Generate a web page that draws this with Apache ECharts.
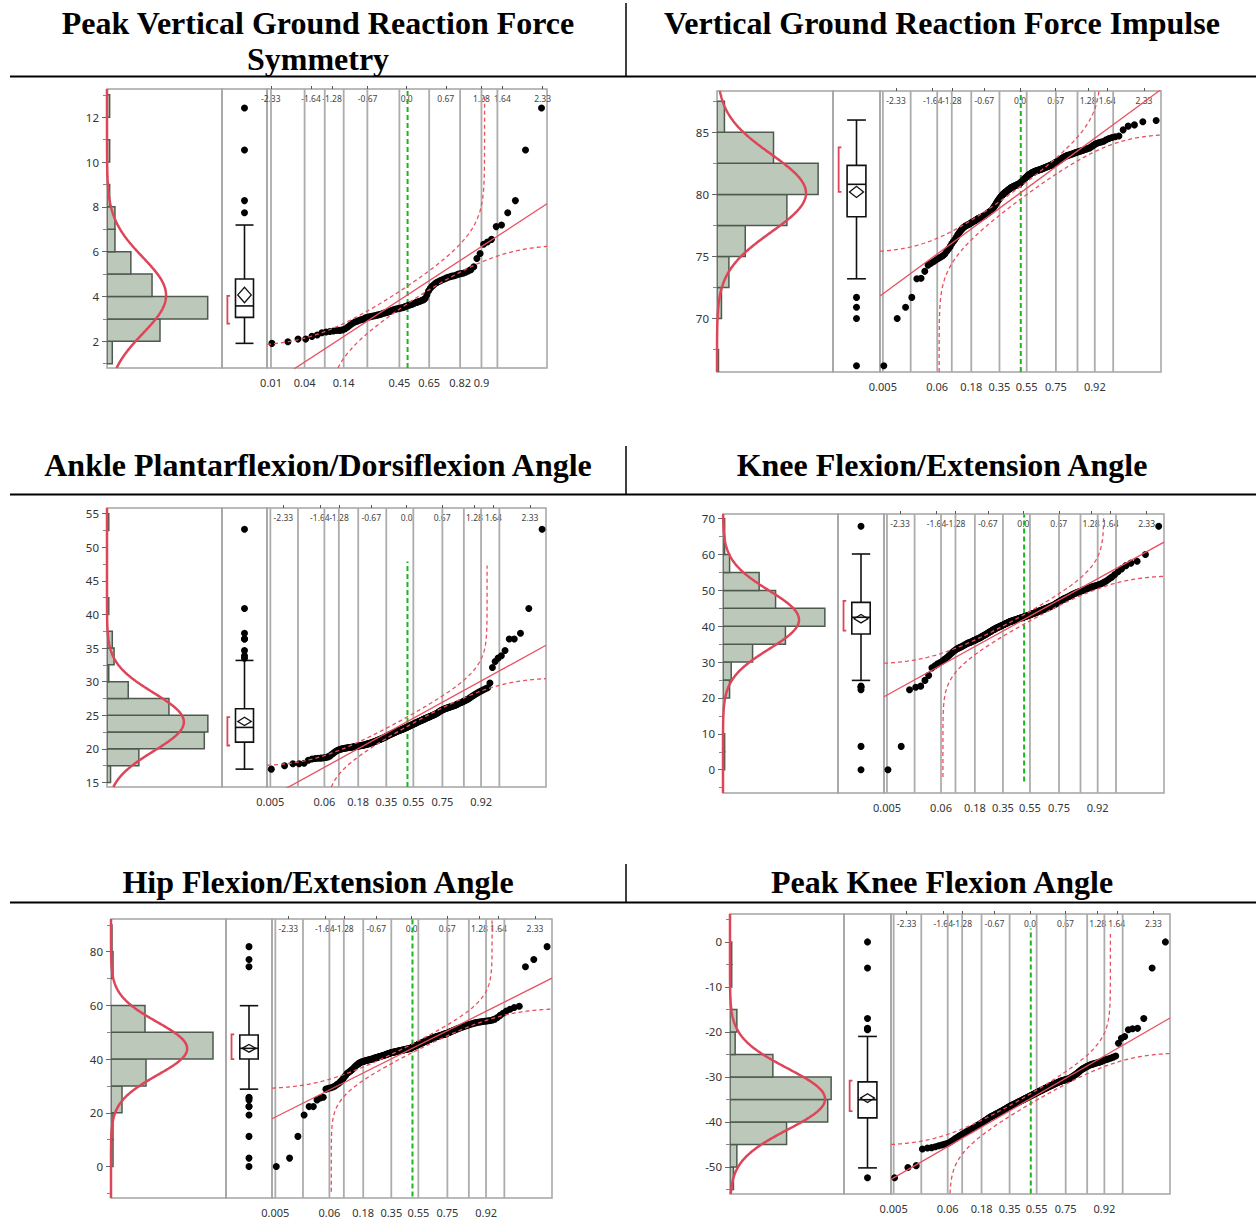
<!DOCTYPE html>
<html><head><meta charset="utf-8"><title>Normality plots</title>
<script src="https://cdn.jsdelivr.net/npm/echarts@6.0.0/dist/echarts.min.js"></script>
<style>html,body{margin:0;padding:0;background:#fff;}#chart{width:1256px;height:1222px;}</style>
</head><body><div id="chart"></div>
<script>
// ===================== DATA =====================
const panelTitles = [
  ['Peak Vertical Ground Reaction Force', 'Symmetry'],
  ['Vertical Ground Reaction Force Impulse'],
  ['Ankle Plantarflexion/Dorsiflexion Angle'],
  ['Knee Flexion/Extension Angle'],
  ['Hip Flexion/Extension Angle'],
  ['Peak Knee Flexion Angle']
];
const topQuantileLabels = ['-2.33','-1.64','-1.28','-0.67','0.0','0.67','1.28','1.64','2.33'];
const probGridP = [0.005,0.02,0.06,0.10,0.18,0.35,0.55,0.75,0.86,0.92,0.96];
const probLabelP = [0.005,0.06,0.18,0.35,0.55,0.75,0.92];
const probLabelText = ['0.005','0.06','0.18','0.35','0.55','0.75','0.92'];
const p1GridP = [0.01,0.04,0.08,0.14,0.25,0.45,0.65,0.82,0.90,0.94];
const p1LabelP = [0.01,0.04,0.14,0.45,0.65,0.82,0.90];
const p1LabelText = ['0.01','0.04','0.14','0.45','0.65','0.82','0.9'];

// Panel 1: Peak vertical GRF symmetry
const p1YTicks = [2,4,6,8,10,12];
const p1YMinor = [1,3,5,7,9,11,13];
const p1BinStart = 1, p1BinWidth = 1;
const p1Counts = [2,20,38,17,9,3,3,1,0,1,0,1];
const p1Fit = [4.05, 1.70];
const p1Box = [1.91, 3.07, 3.58, 4.78, 7.19];   // whiskerLo, Q1, median, Q3, whiskerHi
const p1Mean = 4.07;
const p1ShortHalf = [2.79, 4.03];
const p1Band = 0.091;
const p1Values = [1.91,1.98,2.10,2.10,2.22,2.28,2.38,2.42,2.44,2.46,
2.48,2.49,2.51,2.56,2.64,2.73,2.81,2.86,2.90,2.94,
2.97,2.99,3.05,3.07,3.09,3.11,3.13,3.14,3.16,3.18,
3.20,3.22,3.25,3.27,3.29,3.31,3.33,3.37,3.40,3.42,
3.44,3.45,3.47,3.49,3.50,3.52,3.55,3.58,3.60,3.62,
3.65,3.67,3.70,3.73,3.75,3.78,3.80,3.83,3.86,3.92,
4.08,4.25,4.36,4.45,4.51,4.58,4.63,4.67,4.71,4.75,
4.78,4.82,4.86,4.88,4.91,4.93,4.96,5.00,5.02,5.04,
5.08,5.14,5.20,5.33,5.70,5.92,6.33,6.43,6.55,7.12,
7.19,7.74,8.28,10.54,12.41];

// Panel 2: Vertical GRF impulse
const p2YTicks = [70,75,80,85];
const p2YMinor = [67.5,72.5,77.5,82.5,87.5];
const p2BinStart = 65, p2BinWidth = 2.5;
const p2Counts = [1,0,3,8,19,47,68,38,5];
const p2Fit = [80.1, 3.15];
const p2Box = [73.2, 78.2, 80.81, 82.34, 85.99];
const p2Mean = 80.2;
const p2ShortHalf = [80.2, 83.79];
const p2Values = [66.2,70.0,70.9,71.7,73.2,73.25,73.8,74.3,74.45,74.6,
74.73,74.86,74.95,75.06,75.2,75.42,75.6,75.79,76.02,76.2,
76.36,76.55,76.74,76.91,77.05,77.18,77.3,77.37,77.45,77.49,
77.56,77.6,77.64,77.71,77.75,77.8,77.86,77.9,77.94,78.01,
78.05,78.09,78.12,78.16,78.18,78.21,78.25,78.3,78.34,78.41,
78.45,78.5,78.56,78.6,78.64,78.7,78.76,78.85,78.96,79.05,
79.14,79.25,79.36,79.45,79.54,79.62,79.7,79.79,79.85,79.93,
80.0,80.04,80.1,80.16,80.2,80.24,80.3,80.36,80.4,80.44,
80.48,80.53,80.55,80.59,80.62,80.65,80.67,80.7,80.73,80.75,
80.78,80.8,80.84,80.86,80.9,80.95,81.01,81.06,81.12,81.18,
81.24,81.3,81.34,81.4,81.46,81.5,81.55,81.6,81.63,81.67,
81.72,81.74,81.78,81.8,81.83,81.86,81.88,81.9,81.92,81.95,
81.96,81.98,82.0,82.03,82.05,82.07,82.1,82.12,82.15,82.18,
82.2,82.22,82.25,82.28,82.3,82.34,82.36,82.4,82.44,82.48,
82.52,82.57,82.6,82.64,82.69,82.72,82.77,82.82,82.88,82.94,
83.0,83.04,83.08,83.11,83.15,83.18,83.2,83.24,83.26,83.3,
83.33,83.37,83.4,83.43,83.47,83.5,83.54,83.58,83.62,83.66,
83.71,83.75,83.85,83.95,84.05,84.12,84.18,84.22,84.28,84.4,
84.5,84.58,84.65,84.7,85.2,85.5,85.6,85.85,85.95];

// Panel 3: Ankle plantarflexion/dorsiflexion angle
const p3YTicks = [15,20,25,30,35,40,45,50,55];
const p3YMinor = [17.5,22.5,27.5,32.5,37.5,42.5,47.5,52.5];
const p3BinStart = 15, p3BinWidth = 2.5;
const p3Counts = [2,18,55,57,35,12,1,4,3,0,1,0,0,0,0,1];
const p3Fit = [24.0, 4.34];
const p3Box = [16.98, 21.0, 23.19, 25.97, 33.16];
const p3Mean = 24.08;
const p3ShortHalf = [20.5, 24.73];
const p3Values = [16.98,17.48,17.78,17.78,17.85,18.3,18.5,18.55,18.6,18.62,
18.66,18.7,18.8,18.95,19.2,19.4,19.6,19.74,19.86,19.95,
20.0,20.04,20.1,20.12,20.15,20.19,20.2,20.23,20.27,20.3,
20.33,20.35,20.38,20.41,20.43,20.46,20.5,20.52,20.55,20.58,
20.62,20.67,20.7,20.74,20.78,20.83,20.86,20.9,20.95,21.0,
21.05,21.1,21.14,21.2,21.25,21.3,21.36,21.4,21.45,21.5,
21.55,21.6,21.65,21.7,21.76,21.82,21.87,21.94,22.0,22.05,
22.1,22.15,22.2,22.26,22.3,22.35,22.4,22.45,22.5,22.55,
22.6,22.64,22.68,22.72,22.76,22.8,22.84,22.88,22.92,22.95,
23.02,23.06,23.1,23.16,23.2,23.24,23.31,23.35,23.41,23.45,
23.5,23.55,23.61,23.65,23.7,23.75,23.8,23.86,23.9,23.95,
24.0,24.06,24.1,24.15,24.21,24.25,24.3,24.35,24.4,24.46,
24.5,24.55,24.6,24.66,24.7,24.75,24.8,24.86,24.9,24.95,
25.0,25.05,25.1,25.15,25.22,25.3,25.38,25.46,25.54,25.62,
25.7,25.76,25.82,25.88,25.94,26.0,26.05,26.1,26.15,26.2,
26.25,26.3,26.35,26.4,26.45,26.5,26.58,26.66,26.74,26.82,
26.9,26.98,27.06,27.15,27.25,27.35,27.45,27.6,27.75,27.9,
28.05,28.2,28.35,28.5,28.65,28.8,28.95,29.1,29.8,32.1,
33.0,33.5,33.86,34.65,36.34,36.34,37.2,40.9,52.7];

// Panel 4: Knee flexion/extension angle
const p4YTicks = [0,10,20,30,40,50,60,70];
const p4YMinor = [-5,5,15,25,35,45,55,65];
const p4BinStart = 0, p4BinWidth = 5;
const p4Counts = [1,1,0,0,4,5,18,38,62,32,22,4,1,1];
const p4Fit = [41.8, 8.15];
const p4Box = [24.9, 37.84, 42.5, 46.67, 60.15];
const p4Mean = 42.1;
const p4ShortHalf = [38.8, 47.1];
const p4Values = [0,6.5,22.3,23.0,23.3,24.9,26.3,28.4,29.0,29.5,
29.9,30.3,30.8,31.2,31.7,32.2,32.7,33.1,33.4,33.7,
33.9,34.1,34.3,34.5,34.7,34.9,35.1,35.3,35.4,35.5,
35.7,35.8,36.0,36.1,36.2,36.4,36.5,36.6,36.8,36.9,
37.1,37.2,37.4,37.5,37.7,37.8,38.0,38.1,38.3,38.4,
38.6,38.7,38.9,39.0,39.1,39.2,39.4,39.5,39.6,39.7,
39.8,39.9,40.0,40.1,40.2,40.3,40.4,40.5,40.6,40.7,
40.8,40.9,41.0,41.1,41.2,41.3,41.35,41.4,41.5,41.55,
41.6,41.7,41.75,41.8,41.9,41.95,42.0,42.1,42.15,42.2,
42.3,42.35,42.4,42.5,42.55,42.6,42.7,42.75,42.8,42.9,
42.95,43.0,43.1,43.15,43.2,43.3,43.4,43.5,43.55,43.6,
43.7,43.8,43.85,43.9,44.0,44.1,44.2,44.3,44.35,44.4,
44.5,44.6,44.7,44.8,44.85,44.9,45.0,45.1,45.2,45.3,
45.4,45.5,45.6,45.7,45.8,45.9,46.0,46.15,46.3,46.45,
46.6,46.75,46.9,47.05,47.2,47.35,47.5,47.65,47.8,47.9,
48.0,48.15,48.3,48.45,48.6,48.75,48.9,49.05,49.2,49.35,
49.5,49.6,49.7,49.85,50.0,50.15,50.3,50.45,50.6,50.75,
50.9,51.05,51.2,51.35,51.5,51.7,52.0,52.3,52.7,53.2,
53.7,54.4,55.2,56.0,56.9,57.6,58.1,60.0,67.9];

// Panel 5: Hip flexion/extension angle
const p5YTicks = [0,20,40,60,80];
const p5YMinor = [-10,10,30,50,70,90];
const p5BinStart = 0, p5BinWidth = 10;
const p5Counts = [2,2,11,35,102,34,0,2,1];
const p5Fit = [43.9, 9.9];
const p5Box = [28.8, 40.06, 44.0, 49.0, 59.9];
const p5Mean = 44.0;
const p5ShortHalf = [40.0, 49.2];
const p5Values = [0,3.1,11.2,19.2,22.3,22.3,24.8,25.5,25.8,28.8,
29.1,29.3,29.6,30.0,30.5,31.0,31.6,32.3,33.1,33.8,
34.6,35.0,35.4,35.8,36.2,36.7,37.2,37.6,38.0,38.3,
38.6,38.8,39.0,39.1,39.2,39.35,39.45,39.55,39.65,39.75,
39.85,39.95,40.05,40.15,40.25,40.35,40.45,40.55,40.65,40.75,
40.85,40.95,41.05,41.15,41.25,41.35,41.45,41.55,41.65,41.75,
41.85,41.95,42.05,42.15,42.25,42.35,42.45,42.52,42.58,42.64,
42.7,42.76,42.82,42.88,42.94,43.0,43.06,43.12,43.18,43.24,
43.3,43.36,43.42,43.48,43.54,43.6,43.66,43.72,43.78,43.84,
43.9,43.96,44.02,44.1,44.3,44.42,44.54,44.66,44.78,44.9,
45.02,45.14,45.26,45.38,45.5,45.62,45.74,45.86,45.98,46.1,
46.22,46.34,46.46,46.58,46.7,46.82,46.94,47.06,47.18,47.3,
47.42,47.54,47.66,47.78,47.9,48.0,48.1,48.2,48.3,48.4,
48.5,48.6,48.7,48.8,48.9,49.0,49.1,49.2,49.3,49.4,
49.5,49.6,49.75,49.9,50.05,50.2,50.35,50.5,50.65,50.8,
50.95,51.1,51.25,51.4,51.55,51.7,51.85,52.0,52.15,52.3,
52.45,52.6,52.75,52.9,53.05,53.2,53.35,53.5,53.6,53.7,
53.8,53.9,54.0,54.1,54.2,54.3,54.4,54.6,54.9,55.5,
56.3,57.1,57.9,58.6,59.2,59.7,74.4,77.1,81.9];

// Panel 6: Peak knee flexion angle
const p6YTicks = [-50,-40,-30,-20,-10,0];
const p6YMinor = [-55,-45,-35,-25,-15,-5,5];
const p6BinStart = -55, p6BinWidth = 5;
const p6Counts = [2,4,33,57,59,25,3,4,0,1,1];
const p6Fit = [-34.9, 6.8];
const p6Box = [-50.2, -39.1, -35.06, -31.1, -21.0];
const p6Mean = -34.7;
const p6ShortHalf = [-37.6, -30.8];
const p6Values = [-52.4,-50.1,-49.7,-46.0,-45.8,-45.7,-45.5,-45.3,-45.1,-44.95,
-44.8,-44.6,-44.3,-44.0,-43.7,-43.45,-43.2,-42.95,-42.75,-42.55,
-42.35,-42.15,-42.0,-41.85,-41.7,-41.5,-41.35,-41.2,-41.0,-40.85,
-40.7,-40.55,-40.4,-40.25,-40.1,-39.95,-39.8,-39.65,-39.5,-39.35,
-39.2,-39.05,-38.9,-38.8,-38.7,-38.6,-38.5,-38.4,-38.3,-38.2,
-38.1,-38.0,-37.9,-37.8,-37.7,-37.6,-37.5,-37.4,-37.3,-37.2,
-37.1,-37.0,-36.9,-36.8,-36.7,-36.6,-36.5,-36.42,-36.34,-36.26,
-36.18,-36.1,-36.02,-35.94,-35.86,-35.78,-35.7,-35.62,-35.54,-35.46,
-35.38,-35.3,-35.22,-35.14,-35.06,-34.98,-34.9,-34.82,-34.74,-34.66,
-34.58,-34.5,-34.42,-34.34,-34.26,-34.18,-34.1,-34.02,-33.94,-33.86,
-33.78,-33.7,-33.62,-33.54,-33.46,-33.38,-33.3,-33.22,-33.14,-33.06,
-32.98,-32.9,-32.82,-32.74,-32.66,-32.58,-32.5,-32.42,-32.34,-32.26,
-32.18,-32.1,-32.02,-31.94,-31.86,-31.78,-31.7,-31.62,-31.54,-31.46,
-31.38,-31.3,-31.22,-31.14,-31.06,-30.98,-30.92,-30.86,-30.8,-30.74,
-30.68,-30.62,-30.56,-30.5,-30.44,-30.38,-30.3,-30.2,-30.05,-29.9,
-29.75,-29.6,-29.45,-29.3,-29.1,-28.9,-28.7,-28.5,-28.3,-28.15,
-28.0,-27.85,-27.7,-27.55,-27.4,-27.3,-27.2,-27.1,-27.0,-26.9,
-26.8,-26.7,-26.55,-26.4,-26.25,-26.1,-25.95,-25.8,-25.6,-25.35,
-22.5,-21.4,-21.0,-19.5,-19.3,-19.2,-17.0,-5.8,0];
const bandN189 = 0.0644;
const meanLineZ = 0.015;

// ===================== HELPERS =====================
function normCdf(z){
  const t = 1/(1+0.2316419*Math.abs(z));
  const d = 0.3989422804014327*Math.exp(-z*z/2);
  const p = d*t*(0.31938153+t*(-0.356563782+t*(1.781477937+t*(-1.821255978+t*1.330274429))));
  return z > 0 ? 1-p : p;
}
function normInv(p){
  const a=[-3.969683028665376e+01,2.209460984245205e+02,-2.759285104469687e+02,1.383577518672690e+02,-3.066479806614716e+01,2.506628277459239e+00];
  const b=[-5.447609879822406e+01,1.615858368580409e+02,-1.556989798598866e+02,6.680131188771972e+01,-1.328068155288572e+01];
  const c=[-7.784894002430293e-03,-3.223964580411365e-01,-2.400758277161838e+00,-2.549732539343734e+00,4.374664141464968e+00,2.938163982698783e+00];
  const d=[7.784695709041462e-03,3.224671290700398e-01,2.445134137142996e+00,3.754408661907416e+00];
  const pl=0.02425, ph=1-pl; let q, r;
  if (p < pl){ q=Math.sqrt(-2*Math.log(p)); return (((((c[0]*q+c[1])*q+c[2])*q+c[3])*q+c[4])*q+c[5])/((((d[0]*q+d[1])*q+d[2])*q+d[3])*q+1); }
  if (p <= ph){ q=p-0.5; r=q*q; return (((((a[0]*r+a[1])*r+a[2])*r+a[3])*r+a[4])*r+a[5])*q/(((((b[0]*r+b[1])*r+b[2])*r+b[3])*r+b[4])*r+1); }
  q=Math.sqrt(-2*Math.log(1-p)); return -(((((c[0]*q+c[1])*q+c[2])*q+c[3])*q+c[4])*q+c[5])/((((d[0]*q+d[1])*q+d[2])*q+d[3])*q+1);
}

// ===================== LAYOUT =====================
const panels = [
  {lay:{x0:107,hx:222,bx:267,x1:547,y0:89,y1:368}, yr:[0.81,13.26], zr:[-2.395,2.405], histMax:43.4,
   yTicks:p1YTicks, yMinor:p1YMinor, binStart:p1BinStart, binW:p1BinWidth, counts:p1Counts, fit:p1Fit, box:p1Box, mean:p1Mean, half:p1ShortHalf,
   values:p1Values, gridP:p1GridP, labP:p1LabelP, labT:p1LabelText, d:p1Band, ref:[0.81,13.26]},
  {lay:{x0:717,hx:833,bx:880,x1:1161,y0:91,y1:372}, yr:[65.69,88.33], zr:[-2.63,2.649], histMax:78,
   yTicks:p2YTicks, yMinor:p2YMinor, binStart:p2BinStart, binW:p2BinWidth, counts:p2Counts, fit:p2Fit, box:p2Box, mean:p2Mean, half:p2ShortHalf,
   values:p2Values, gridP:probGridP, labP:probLabelP, labT:probLabelText, d:bandN189, ref:[65.69,88.33]},
  {lay:{x0:107,hx:222,bx:267,x1:546,y0:508,y1:787}, yr:[14.32,55.85], zr:[-2.639,2.632], histMax:65,
   yTicks:p3YTicks, yMinor:p3YMinor, binStart:p3BinStart, binW:p3BinWidth, counts:p3Counts, fit:p3Fit, box:p3Box, mean:p3Mean, half:p3ShortHalf,
   values:p3Values, gridP:probGridP, labP:probLabelP, labT:probLabelText, d:bandN189, ref:[14.32,47.9]},
  {lay:{x0:723,hx:838,bx:884,x1:1164,y0:514,y1:793}, yr:[-6.5,71.3], zr:[-2.632,2.658], histMax:70,
   yTicks:p4YTicks, yMinor:p4YMinor, binStart:p4BinStart, binW:p4BinWidth, counts:p4Counts, fit:p4Fit, box:p4Box, mean:p4Mean, half:p4ShortHalf,
   values:p4Values, gridP:probGridP, labP:probLabelP, labT:probLabelText, d:bandN189, ref:[-3.3,71.1]},
  {lay:{x0:111,hx:226,bx:272,x1:552,y0:919,y1:1198}, yr:[-11.76,92.2], zr:[-2.639,2.651], histMax:115,
   yTicks:p5YTicks, yMinor:p5YMinor, binStart:p5BinStart, binW:p5BinWidth, counts:p5Counts, fit:p5Fit, box:p5Box, mean:p5Mean, half:p5ShortHalf,
   values:p5Values, gridP:probGridP, labP:probLabelP, labT:probLabelText, d:bandN189, ref:[-11.2,92.2]},
  {lay:{x0:730,hx:844,bx:891,x1:1170,y0:914,y1:1194}, yr:[-56.0,6.2], zr:[-2.626,2.645], histMax:66.5,
   yTicks:p6YTicks, yMinor:p6YMinor, binStart:p6BinStart, binW:p6BinWidth, counts:p6Counts, fit:p6Fit, box:p6Box, mean:p6Mean, half:p6ShortHalf,
   values:p6Values, gridP:probGridP, labP:probLabelP, labT:probLabelText, d:bandN189, ref:[-55.9,3.0]}
];
const titleLayout = [
  {x:318, ys:[23,59]}, {x:942, ys:[23]}, {x:318, ys:[465]}, {x:942, ys:[465]}, {x:318, ys:[882]}, {x:942, ys:[882]}
];
const ruleLayout = [{hy:76.5, vt:3, vb:76}, {hy:494.5, vt:446, vb:494}, {hy:902.5, vt:864, vb:902}];

const FONT_UI = '"Noto Sans","Open Sans","DejaVu Sans",sans-serif';
const RED = '#dc4658', RED_LINE = '#e9505e', GREEN = '#1fb41f', GRIDC = '#acacac', FRAME = '#a4a4a4';

function bandData(P, sg){
  const mu = P.fit[0], s = P.fit[1], d = P.d, lo = P.ref[0], hi = P.ref[1];
  let a = P.zr[0], b = P.zr[1];
  if (sg > 0){
    const pe = normCdf((hi-mu)/s) - d; if (pe > 0 && pe < 1) b = Math.min(b, normInv(pe));
    const ps = normCdf((lo-mu)/s) - d; if (ps > 0) a = Math.max(a, normInv(ps));
  } else {
    const ps = normCdf((lo-mu)/s) + d; if (ps < 1) a = Math.max(a, normInv(ps));
    const pe = normCdf((hi-mu)/s) + d; if (pe < 1) b = Math.min(b, normInv(pe));
  }
  const pts = [], n = 500;
  for (let i = 0; i <= n; i++){
    const t = i/n; const tt = sg > 0 ? 1-(1-t)*(1-t) : t*t;
    const z = a + (b-a)*tt; const p = normCdf(z) + sg*d;
    if (p <= 0 || p >= 1) continue;
    let v = mu + s*normInv(p); v = Math.max(lo, Math.min(hi, v));
    pts.push([z, v]);
  }
  return pts;
}
function picker(arrZ, arrT){
  return function(v){ let b = 0; for (let i = 1; i < arrZ.length; i++) if (Math.abs(arrZ[i]-v) < Math.abs(arrZ[b]-v)) b = i; return arrT[b]; };
}

// ===================== OPTION =====================
const opt = {animation:false, backgroundColor:'#ffffff', textStyle:{fontFamily:FONT_UI}, grid:[], xAxis:[], yAxis:[], series:[], graphic:[]};

panels.forEach(function(P){
  const L = P.lay, H = L.y1 - L.y0;
  const g0 = opt.grid.length, xi = opt.xAxis.length, yi = opt.yAxis.length;
  const gb = {show:true, borderColor:FRAME, borderWidth:1.5, backgroundColor:'transparent', top:L.y0, height:H, containLabel:false, outerBoundsMode:'none'};
  opt.grid.push(Object.assign({}, gb, {left:L.x0, width:L.hx-L.x0}));
  opt.grid.push(Object.assign({}, gb, {left:L.hx, width:L.bx-L.hx}));
  opt.grid.push(Object.assign({}, gb, {left:L.bx, width:L.x1-L.bx}));

  const labZ = P.labP.map(normInv);
  const topZ = topQuantileLabels.map(Number);
  opt.xAxis.push({gridIndex:g0, type:'value', min:0, max:P.histMax, show:false});
  opt.xAxis.push({gridIndex:g0+1, type:'value', min:0, max:1, show:false});
  opt.xAxis.push({gridIndex:g0+2, type:'value', min:P.zr[0], max:P.zr[1], position:'bottom',
    axisLine:{show:false}, axisTick:{show:false}, splitLine:{show:false},
    axisLabel:{show:true, customValues:labZ, formatter:picker(labZ, P.labT), fontSize:11, color:'#333', margin:9, fontFamily:FONT_UI}});
  opt.xAxis.push({gridIndex:g0+2, type:'value', min:P.zr[0], max:P.zr[1], position:'top',
    axisLine:{show:false}, splitLine:{show:false},
    axisTick:{show:true, customValues:topZ, length:3, lineStyle:{color:'#555', width:1}},
    axisLabel:{show:true, inside:true, customValues:topZ, formatter:picker(topZ, topQuantileLabels), fontSize:8.5, color:'#444', margin:5, fontFamily:FONT_UI}});

  const yb = {type:'value', min:P.yr[0], max:P.yr[1]};
  opt.yAxis.push(Object.assign({gridIndex:g0, position:'left', axisLine:{show:false}, splitLine:{show:false},
    axisTick:{show:true, customValues:P.yTicks, length:5, lineStyle:{color:'#666'}},
    axisLabel:{show:true, customValues:P.yTicks, fontSize:11.5, color:'#333', margin:8, fontFamily:FONT_UI}}, yb));
  opt.yAxis.push(Object.assign({gridIndex:g0, position:'left', axisLine:{show:false}, splitLine:{show:false},
    axisTick:{show:true, customValues:P.yMinor, length:4, lineStyle:{color:'#888'}}, axisLabel:{show:false}}, yb));
  opt.yAxis.push(Object.assign({gridIndex:g0+1, show:false}, yb));
  opt.yAxis.push(Object.assign({gridIndex:g0+2, show:false}, yb));

  const mu = P.fit[0], sd = P.fit[1];
  const N = P.values.length;
  const nCount = P.counts.reduce(function(a,b){return a+b;}, 0);

  // histogram bars
  opt.series.push({type:'custom', xAxisIndex:xi, yAxisIndex:yi, silent:true, clip:true, z:2,
    data:P.counts.map(function(c,i){ return [c, P.binStart+i*P.binW, P.binStart+(i+1)*P.binW]; }),
    renderItem:function(params, api){
      const c = api.value(0); if (!c) return null;
      const a = api.coord([0, api.value(2)]), b = api.coord([c, api.value(1)]);
      return {type:'rect', shape:{x:a[0], y:a[1], width:b[0]-a[0], height:b[1]-a[1]}, style:{fill:'#bcc8ba', stroke:'#4e5a4e', lineWidth:1.5}};
    }});
  // fitted normal density
  const curve = [];
  for (let i = 0; i <= 300; i++){
    const v = P.yr[0] + (P.yr[1]-P.yr[0])*i/300; const zz = (v-mu)/sd;
    curve.push([nCount*P.binW*Math.exp(-zz*zz/2)/(sd*Math.sqrt(2*Math.PI)), v]);
  }
  opt.series.push({type:'line', xAxisIndex:xi, yAxisIndex:yi, data:curve, symbol:'none', showSymbol:false, silent:true, clip:true, z:3,
    lineStyle:{color:RED, width:2.5}});

  // box plot
  const wLo = P.box[0], q1 = P.box[1], med = P.box[2], q3 = P.box[3], wHi = P.box[4];
  const ci = 1.97*sd/Math.sqrt(N);
  opt.series.push({type:'custom', xAxisIndex:xi+1, yAxisIndex:yi+2, silent:true, z:3, data:[[0.5, med]],
    renderItem:function(params, api){
      const c = function(x,y){ return api.coord([x,y]); };
      const ln = function(p,q,st){ return {type:'line', shape:{x1:p[0],y1:p[1],x2:q[0],y2:q[1]}, style:st}; };
      const blk = {stroke:'#111', lineWidth:1.6};
      const ch = [];
      ch.push(ln(c(0.5,wLo), c(0.5,q1), blk));
      ch.push(ln(c(0.5,q3), c(0.5,wHi), blk));
      ch.push(ln(c(0.3,wLo), c(0.7,wLo), blk));
      ch.push(ln(c(0.3,wHi), c(0.7,wHi), blk));
      const a = c(0.3,q3), b = c(0.7,q1);
      ch.push({type:'rect', shape:{x:a[0], y:a[1], width:b[0]-a[0], height:b[1]-a[1]}, style:{fill:'#fff', stroke:'#111', lineWidth:1.6}});
      ch.push(ln(c(0.3,med), c(0.7,med), blk));
      ch.push({type:'polygon', shape:{points:[c(0.35,P.mean), c(0.5,P.mean+ci), c(0.65,P.mean), c(0.5,P.mean-ci)]}, style:{fill:'none', stroke:'#111', lineWidth:1.3}});
      ch.push({type:'polyline', shape:{points:[c(0.18,P.half[1]), c(0.12,P.half[1]), c(0.12,P.half[0]), c(0.18,P.half[0])]}, style:{fill:'none', stroke:RED, lineWidth:1.8}});
      return {type:'group', children:ch};
    }});
  opt.series.push({type:'scatter', xAxisIndex:xi+1, yAxisIndex:yi+2, silent:true, z:4, symbolSize:7, itemStyle:{color:'#000', opacity:1},
    data:P.values.filter(function(v){ return v < wLo || v > wHi; }).map(function(v){ return [0.5, v]; })});

  // quantile plot: probability grid lines
  const gz = P.gridP.map(normInv);
  opt.series.push({type:'custom', xAxisIndex:xi+2, yAxisIndex:yi+3, silent:true, z:1,
    data:gz.map(function(z){ return [z, P.yr[0]]; }),
    renderItem:function(params, api){
      const z = api.value(0); const a = api.coord([z, P.yr[0]]), b = api.coord([z, P.yr[1]]);
      return {type:'line', shape:{x1:a[0], y1:a[1], x2:b[0], y2:b[1]}, style:{stroke:GRIDC, lineWidth:1.8}};
    }});
  // green reference line
  opt.series.push({type:'custom', xAxisIndex:xi+2, yAxisIndex:yi+3, silent:true, z:2,
    data:[[meanLineZ, P.ref[0]]],
    renderItem:function(params, api){
      const a = api.coord([meanLineZ, P.ref[0]]), b = api.coord([meanLineZ, P.ref[1]]);
      return {type:'line', shape:{x1:a[0], y1:a[1], x2:b[0], y2:b[1]}, style:{stroke:GREEN, lineWidth:2, lineDash:[5,3]}};
    }});
  // data points at normal scores
  const sorted = P.values.slice().sort(function(a,b){ return a-b; });
  opt.series.push({type:'scatter', xAxisIndex:xi+2, yAxisIndex:yi+3, silent:true, z:3, symbolSize:7, itemStyle:{color:'#000', opacity:1},
    data:sorted.map(function(v,i){ return [normInv((i+1)/(N+1)), v]; })});
  // fitted line
  opt.series.push({type:'line', xAxisIndex:xi+2, yAxisIndex:yi+3, silent:true, z:5, clip:true, symbol:'none',
    data:[[P.zr[0], mu+sd*P.zr[0]], [P.zr[1], mu+sd*P.zr[1]]], lineStyle:{color:RED_LINE, width:1.3}});
  // confidence bands
  [1,-1].forEach(function(sg){
    opt.series.push({type:'line', xAxisIndex:xi+2, yAxisIndex:yi+3, silent:true, z:5, clip:true, symbol:'none',
      data:bandData(P, sg), lineStyle:{color:RED_LINE, width:1.3, type:[4,3]}});
  });
});

// titles
panelTitles.forEach(function(lines, k){
  const T = titleLayout[k];
  lines.forEach(function(txt, j){
    opt.graphic.push({type:'text', x:T.x, y:T.ys[j], silent:true,
      style:{text:txt, fill:'#000', font:'bold 32px "Liberation Serif","Times New Roman",serif',
        fontSize:32, fontWeight:'bold', fontFamily:'"Liberation Serif","Times New Roman",serif',
        textAlign:'center', align:'center', textVerticalAlign:'middle', verticalAlign:'middle'}});
  });
});
// separator rules
ruleLayout.forEach(function(R){
  opt.graphic.push({type:'line', silent:true, shape:{x1:10, y1:R.hy, x2:1256, y2:R.hy}, style:{stroke:'#000', lineWidth:2}});
  opt.graphic.push({type:'line', silent:true, shape:{x1:626, y1:R.vt, x2:626, y2:R.vb}, style:{stroke:'#000', lineWidth:1.5}});
});

const chart = echarts.init(document.getElementById('chart'), null, {renderer:'svg'});
chart.setOption(opt);
</script>
</body></html>
